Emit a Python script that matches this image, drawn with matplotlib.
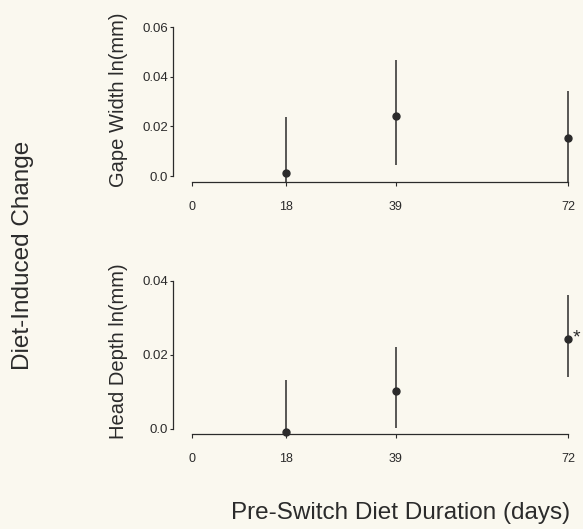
import matplotlib.pyplot as plt

days = [18, 39, 72]
xticks = [0, 18, 39, 72]

gape_mean = [0.0013, 0.0243, 0.0152]
gape_lo = [-0.021, 0.0043, -0.004]
gape_hi = [0.0236, 0.0467, 0.0344]

head_mean = [-0.0008, 0.0103, 0.0242]
head_lo = [-0.015, 0.0002, 0.0140]
head_hi = [0.0132, 0.0221, 0.0362]

plt.rcParams['font.family'] = ['Liberation Sans', 'DejaVu Sans']
bg = '#faf8ef'
ink = '#2b2b2b'

fig = plt.figure(figsize=(5.83, 5.29), dpi=100, facecolor=bg)

W, H = 583, 529
def box(l, t, r, b):
    return [l / W, 1 - b / H, (r - l) / W, (b - t) / H]

ax1 = fig.add_axes(box(173, 27, 571, 182))
ax2 = fig.add_axes(box(173, 281, 571, 434))

panels = [
    (ax1, gape_mean, gape_lo, gape_hi, (-0.0024, 0.06), [0.0, 0.02, 0.04, 0.06], 'Gape Width ln(mm)', 100),
    (ax2, head_mean, head_lo, head_hi, (-0.0014, 0.04), [0.0, 0.02, 0.04], 'Head Depth ln(mm)', 351),
]

for ax, m, lo, hi, yl, yt, lab, ly in panels:
    ax.set_facecolor(bg)
    ax.vlines(days, lo, hi, color=ink, lw=1.1)
    ax.plot(days, m, 'o', color=ink, ms=5, clip_on=False, zorder=3)
    ax.set_xlim(-3.64, 72.57)
    ax.set_ylim(*yl)
    for s in ['top', 'right']:
        ax.spines[s].set_visible(False)
    ax.spines['left'].set_bounds(yt[0], yt[-1])
    ax.spines['bottom'].set_bounds(0, 72)
    for s in ['left', 'bottom']:
        ax.spines[s].set_color(ink)
        ax.spines[s].set_linewidth(0.9)
    ax.set_yticks(yt)
    ax.set_yticklabels(['0.0'] + ['%.2f' % v for v in yt[1:]])
    ax.set_xticks(xticks)
    ax.tick_params(axis='y', colors=ink, labelsize=9.5, length=2.5, width=0.8, pad=1)
    ax.tick_params(axis='x', colors=ink, labelsize=9, length=3, width=0.8, pad=11)
    fig.text(118 / W, 1 - ly / H, lab, rotation=90, ha='center', va='center',
             fontsize=14.5, color=ink)

# significance marker next to the 72-day head depth point
ax2.annotate('*', (72, head_mean[2]), xytext=(3, 1), textcoords='offset points',
             fontsize=14, color=ink, ha='left', va='center')

fig.text(23 / W, 1 - 255 / H, 'Diet-Induced Change', rotation=90, ha='center',
         va='center', fontsize=17.5, color=ink)
fig.text(401 / W, 1 - 513 / H, 'Pre-Switch Diet Duration (days)', ha='center',
         va='center', fontsize=17.5, color=ink)

fig.savefig('out.png', dpi=100, facecolor=bg)
